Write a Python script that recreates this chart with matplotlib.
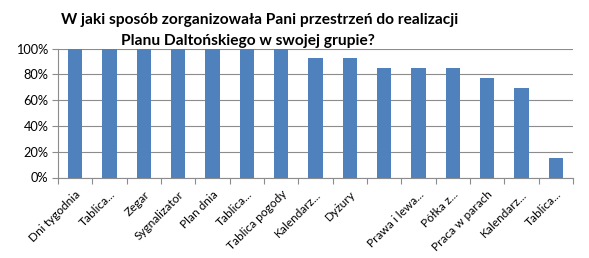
import matplotlib
matplotlib.use("Agg")
import matplotlib.pyplot as plt
from matplotlib.ticker import PercentFormatter, FixedLocator, NullFormatter

categories = ["Dni tygodnia", "Tablica...", "Zegar", "Sygnalizator", "Plan dnia",
              "Tablica...", "Tablica pogody", "Kalendarz...", "Dyżury", "",
              "Prawa i lewa...", "Półka z...", "Praca w parach", "Kalendarz...", "Tablica..."]
values = [100, 100, 100, 100, 100, 100, 100, 92.3, 92.3, 84.6, 84.6, 84.6, 76.9, 69.2, 15.4]
yticks = [0, 20, 40, 60, 80, 100]
title_lines = ["W jaki sposób zorganizowała Pani przestrzeń do realizacji",
               "Planu Daltońskiego w swojej grupie?"]

plt.rcParams['font.family'] = ['Lato', 'DejaVu Sans']

W, H = 589, 258
fig = plt.figure(figsize=(W/100, H/100), dpi=100)
ax = fig.add_axes([58/W, 1-177.5/H, (573-58)/W, 129/H])

x = list(range(len(categories)))
ax.bar(x, values, width=0.42, color="#4F81BD", zorder=3)
ax.set_xlim(-0.5, len(categories)-0.5)
ax.set_ylim(0, 100)
ax.yaxis.set_major_locator(FixedLocator(yticks))
ax.yaxis.set_major_formatter(PercentFormatter(decimals=0))
ax.grid(axis='y', color="#8C8C8C", linewidth=0.8, zorder=0)
for s in ['top', 'right']:
    ax.spines[s].set_visible(False)
for s in ['left', 'bottom']:
    ax.spines[s].set_color("#8C8C8C")
    ax.spines[s].set_linewidth(0.8)

ax.set_xticks(x)
ax.set_xticklabels(categories, rotation=45, ha='right', rotation_mode='anchor', fontsize=8.6)
ax.tick_params(axis='x', which='major', length=0, pad=8)
ax.set_xticks([i-0.5 for i in range(len(categories)+1)], minor=True)
ax.xaxis.set_minor_formatter(NullFormatter())
ax.tick_params(axis='x', which='minor', length=4, color="#8C8C8C", width=0.8)
ax.tick_params(axis='y', length=4, color="#8C8C8C", width=0.8, labelsize=9.2, pad=3)

fig.text(259.5/W, 1-24/H, title_lines[0], ha='center', va='baseline', fontsize=11.2,
         fontweight='bold')
fig.text(247.5/W, 1-45/H, title_lines[1], ha='center', va='baseline', fontsize=11.2,
         fontweight='bold')

fig.savefig("out.png", dpi=100)
